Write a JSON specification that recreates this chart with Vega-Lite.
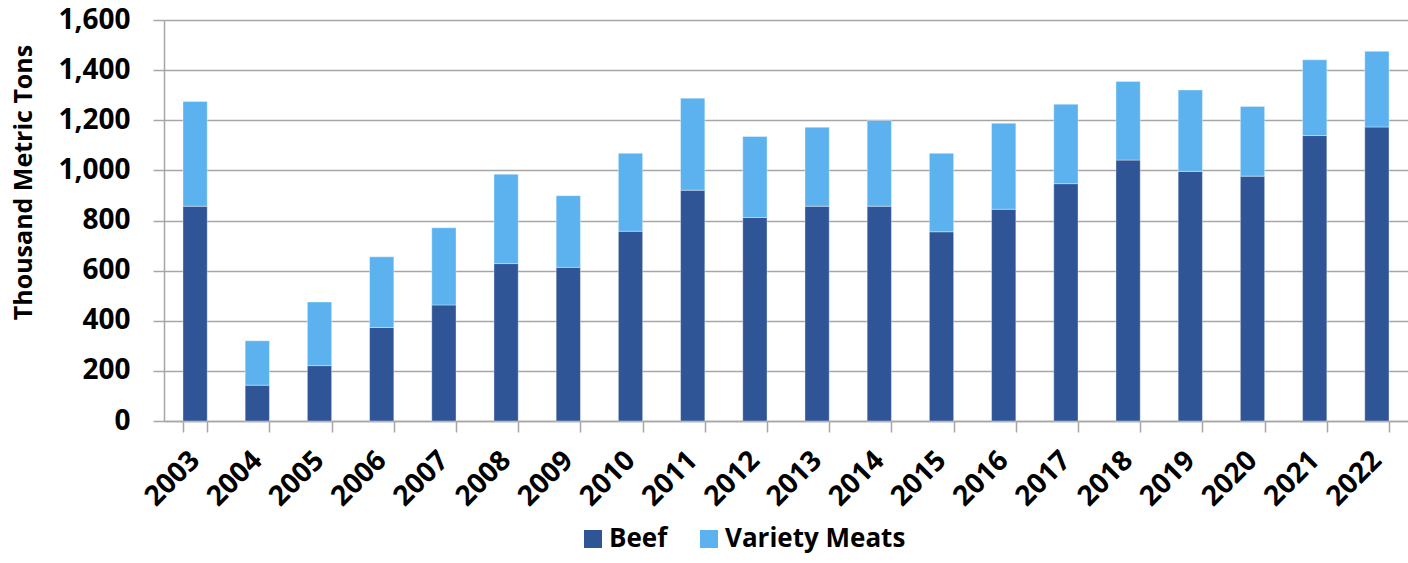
{
  "$schema": "https://vega.github.io/schema/vega-lite/v6.json",
  "autosize": {"type": "none"},
  "padding": {"left": 164, "top": 20, "right": 0, "bottom": 142},
  "width": 1244,
  "height": 401,
  "background": "white",
  "config": {
    "view": {"stroke": null},
    "font": "Open Sans"
  },
  "data": {
    "values": [
      {"year": "2003", "type": "Beef", "value": 857}, {"year": "2003", "type": "Variety Meats", "value": 418},
      {"year": "2004", "type": "Beef", "value": 143}, {"year": "2004", "type": "Variety Meats", "value": 177},
      {"year": "2005", "type": "Beef", "value": 221}, {"year": "2005", "type": "Variety Meats", "value": 254},
      {"year": "2006", "type": "Beef", "value": 373}, {"year": "2006", "type": "Variety Meats", "value": 282},
      {"year": "2007", "type": "Beef", "value": 463}, {"year": "2007", "type": "Variety Meats", "value": 308},
      {"year": "2008", "type": "Beef", "value": 628}, {"year": "2008", "type": "Variety Meats", "value": 357},
      {"year": "2009", "type": "Beef", "value": 613}, {"year": "2009", "type": "Variety Meats", "value": 286},
      {"year": "2010", "type": "Beef", "value": 757}, {"year": "2010", "type": "Variety Meats", "value": 311},
      {"year": "2011", "type": "Beef", "value": 921}, {"year": "2011", "type": "Variety Meats", "value": 367},
      {"year": "2012", "type": "Beef", "value": 812}, {"year": "2012", "type": "Variety Meats", "value": 323},
      {"year": "2013", "type": "Beef", "value": 857}, {"year": "2013", "type": "Variety Meats", "value": 315},
      {"year": "2014", "type": "Beef", "value": 857}, {"year": "2014", "type": "Variety Meats", "value": 342},
      {"year": "2015", "type": "Beef", "value": 755}, {"year": "2015", "type": "Variety Meats", "value": 313},
      {"year": "2016", "type": "Beef", "value": 845}, {"year": "2016", "type": "Variety Meats", "value": 343},
      {"year": "2017", "type": "Beef", "value": 947}, {"year": "2017", "type": "Variety Meats", "value": 317},
      {"year": "2018", "type": "Beef", "value": 1041}, {"year": "2018", "type": "Variety Meats", "value": 314},
      {"year": "2019", "type": "Beef", "value": 996}, {"year": "2019", "type": "Variety Meats", "value": 325},
      {"year": "2020", "type": "Beef", "value": 977}, {"year": "2020", "type": "Variety Meats", "value": 278},
      {"year": "2021", "type": "Beef", "value": 1139}, {"year": "2021", "type": "Variety Meats", "value": 302},
      {"year": "2022", "type": "Beef", "value": 1173}, {"year": "2022", "type": "Variety Meats", "value": 302}
    ]
  },
  "mark": {"type": "bar", "stroke": "#ffffff", "strokeWidth": 0.8, "strokeOpacity": 0.45},
  "encoding": {
    "x": {
      "field": "year",
      "type": "nominal",
      "scale": {"paddingInner": 0.61, "paddingOuter": 0.305},
      "axis": {
        "title": null,
        "labelAngle": -45,
        "labelAlign": "right",
        "labelBaseline": "middle",
        "labelFontSize": 28,
        "labelFontWeight": "bold",
        "labelColor": "#000000",
        "labelPadding": 24,
        "tickBand": "extent",
        "tickSize": 11,
        "tickColor": "#a6a6a6",
        "tickWidth": 1.5,
        "domainColor": "#a6a6a6",
        "domainWidth": 1.5,
        "grid": false
      }
    },
    "y": {
      "field": "value",
      "type": "quantitative",
      "stack": "zero",
      "scale": {"domain": [0, 1600], "nice": false},
      "axis": {
        "title": "Thousand Metric Tons",
        "titleFontSize": 25,
        "titleFontWeight": "bold",
        "titleColor": "#000000",
        "titleAngle": -90,
        "titleX": -141,
        "titleY": 162,
        "titleAlign": "center",
        "titleBaseline": "middle",
        "values": [0, 200, 400, 600, 800, 1000, 1200, 1400, 1600],
        "format": ",.0f",
        "labelFontSize": 28,
        "labelFontWeight": "bold",
        "labelColor": "#000000",
        "labelPadding": 23,
        "tickSize": 11,
        "tickColor": "#a6a6a6",
        "tickWidth": 1.5,
        "domainColor": "#a6a6a6",
        "domainWidth": 1.5,
        "grid": true,
        "gridColor": "#a6a6a6",
        "gridWidth": 1.5
      }
    },
    "order": {"field": "type", "sort": "ascending"},
    "color": {
      "field": "type",
      "type": "nominal",
      "scale": {"domain": ["Beef", "Variety Meats"], "range": ["#2f5597", "#5bb2ee"]},
      "legend": {
        "title": null,
        "orient": "none",
        "direction": "horizontal",
        "legendX": 416,
        "legendY": 506,
        "symbolType": "square",
        "symbolSize": 324,
        "symbolStrokeWidth": 0,
        "labelFontSize": 26,
        "labelFontWeight": "bold",
        "labelColor": "#000000",
        "labelOffset": 3,
        "labelLimit": 0,
        "columnPadding": 28
      }
    }
  }
}
